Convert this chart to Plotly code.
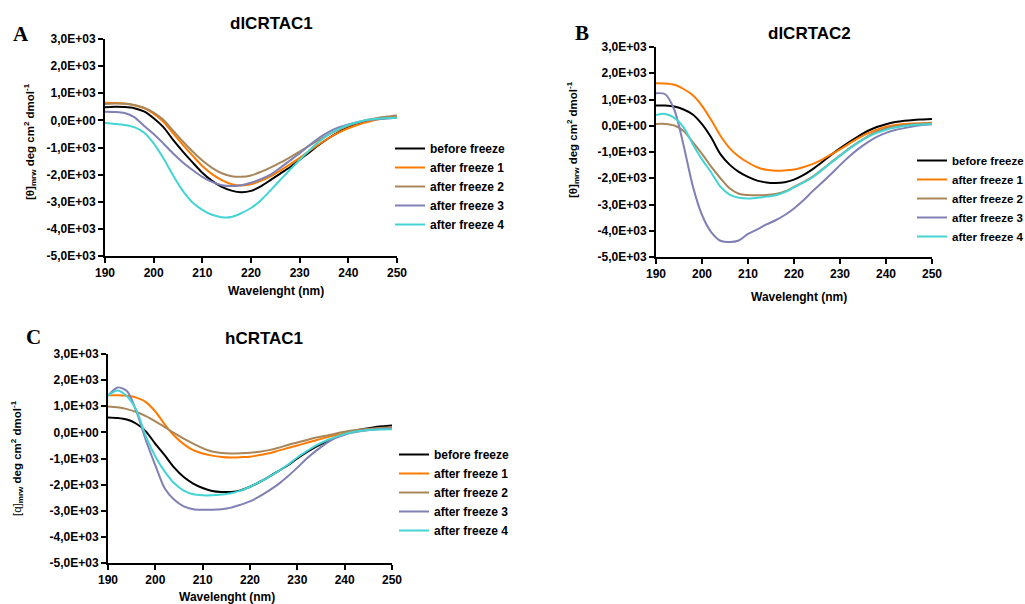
import plotly.graph_objects as go

W, H = 1025, 604

wavelength = list(range(190, 252, 2))

series_names = ["before freeze", "after freeze 1", "after freeze 2", "after freeze 3", "after freeze 4"]
series_colors = ["#000000", "#FF7A00", "#A8865A", "#8080B4", "#44D4D4"]

y_tickvals = [3000, 2000, 1000, 0, -1000, -2000, -3000, -4000, -5000]
y_ticktext = ["3,0E+03", "2,0E+03", "1,0E+03", "0,0E+00", "-1,0E+03", "-2,0E+03",
              "-3,0E+03", "-4,0E+03", "-5,0E+03"]
x_tickvals = [190, 200, 210, 220, 230, 240, 250]

# Panel A: dlCRTAC1
a_before = [480, 500, 490, 450, 330, 80, -250, -720, -1150, -1550, -1930, -2230, -2450, -2590, -2650, -2600,
            -2430, -2200, -1960, -1730, -1450, -1180, -900, -650, -430, -250, -100, 0, 60, 110, 150]
a_after1 = [650, 640, 620, 560, 450, 250, -50, -480, -900, -1300, -1680, -1980, -2200, -2350, -2400, -2360,
            -2230, -2060, -1850, -1620, -1380, -1130, -880, -650, -450, -290, -160, -60, 30, 90, 150]
a_after2 = [600, 620, 610, 570, 470, 290, 20, -380, -780, -1150, -1480, -1750, -1950, -2060, -2080, -2030,
            -1900, -1740, -1560, -1360, -1150, -930, -720, -520, -340, -200, -80, 20, 90, 140, 180]
a_after3 = [320, 310, 270, 120, -200, -500, -850, -1220, -1550, -1830, -2080, -2270, -2390, -2420, -2390, -2300,
            -2170, -2000, -1750, -1480, -1210, -920, -640, -420, -260, -150, -60, 0, 40, 70, 100]
a_after4 = [-100, -130, -170, -250, -450, -850, -1400, -2030, -2600, -3030, -3300, -3480, -3570, -3560, -3420, -3230,
            -2950, -2580, -2200, -1820, -1460, -1100, -780, -520, -320, -170, -60, 20, 60, 80, 100]

# Panel B: dlCRTAC2
b_before = [770, 770, 730, 620, 430, 60, -450, -1080, -1480, -1760, -1950, -2090, -2160, -2180, -2150, -2050,
            -1880, -1660, -1400, -1120, -860, -620, -400, -200, -50, 60, 140, 190, 220, 240, 260]
b_after1 = [1620, 1610, 1560, 1400, 1160, 760, 220, -380, -850, -1170, -1400, -1580, -1680, -1710, -1700, -1670,
            -1580, -1460, -1300, -1100, -900, -680, -470, -290, -150, -40, 30, 70, 90, 100, 110]
b_after2 = [70, 70, 10, -200, -620, -1070, -1560, -2000, -2380, -2590, -2640, -2650, -2640, -2600, -2500, -2330,
            -2150, -1950, -1680, -1400, -1130, -860, -620, -400, -230, -100, -20, 30, 60, 80, 100]
b_after3 = [1240, 1200, 600, -750, -2300, -3400, -4050, -4380, -4430, -4370, -4120, -3950, -3760, -3600, -3400, -3150,
            -2850, -2500, -2180, -1850, -1500, -1170, -880, -630, -420, -270, -160, -90, -20, 30, 60]
b_after4 = [410, 450, 300, -60, -700, -1280, -1780, -2320, -2620, -2740, -2770, -2740, -2700, -2650, -2530, -2350,
            -2170, -1970, -1700, -1420, -1150, -880, -640, -430, -270, -150, -70, -10, 30, 50, 70]

# Panel C: hCRTAC1
c_before = [570, 550, 490, 330, 40, -440, -880, -1350, -1710, -1960, -2130, -2240, -2280, -2280, -2220, -2080,
            -1900, -1700, -1480, -1260, -1000, -760, -550, -360, -200, -60, 50, 130, 190, 230, 260]
c_after1 = [1420, 1420, 1400, 1330, 1160, 800, 300, -130, -450, -680, -810, -890, -940, -960, -950, -930,
            -870, -800, -700, -600, -500, -400, -300, -200, -110, -30, 40, 90, 130, 160, 180]
c_after2 = [990, 960, 890, 780, 620, 420, 200, -30, -240, -430, -600, -730, -790, -810, -800, -780,
            -740, -680, -590, -480, -390, -290, -200, -130, -50, 20, 80, 120, 150, 180, 200]
c_after3 = [1400, 1720, 1580, 800, -300, -1260, -2150, -2580, -2830, -2940, -2960, -2960, -2940, -2880, -2770, -2640,
            -2450, -2230, -1980, -1680, -1350, -1000, -700, -430, -220, -90, 0, 60, 100, 130, 150]
c_after4 = [1400, 1600, 1380, 850, -150, -920, -1500, -1950, -2230, -2370, -2410, -2410, -2380, -2330, -2230, -2080,
            -1900, -1700, -1480, -1240, -960, -720, -500, -320, -180, -60, 20, 70, 100, 110, 120]

panels = [
    dict(data=[a_before, a_after1, a_after2, a_after3, a_after4], xa="x", ya="y", legend="legend"),
    dict(data=[b_before, b_after1, b_after2, b_after3, b_after4], xa="x2", ya="y2", legend="legend2"),
    dict(data=[c_before, c_after1, c_after2, c_after3, c_after4], xa="x3", ya="y3", legend="legend3"),
]

fig = go.Figure()
for p in panels:
    for name, color, vals in zip(series_names, series_colors, p["data"]):
        fig.add_trace(go.Scatter(
            x=wavelength, y=vals, mode="lines", name=name,
            line=dict(color=color, width=2, shape="spline", smoothing=0.8),
            xaxis=p["xa"], yaxis=p["ya"], legend=p["legend"], showlegend=True,
        ))


def px(x):
    return x / W


def py(y):
    return 1 - y / H


FAMILY = "Liberation Sans, Arial"
tickfont = dict(family=FAMILY, size=12, color="black", weight="bold")
axis_common = dict(showline=True, linecolor="black", linewidth=2, ticks="outside",
                   ticklen=5, tickwidth=2, tickcolor="black", showgrid=False, zeroline=False,
                   tickfont=tickfont, automargin=False)


def xaxis(x0, x1, anchor):
    return dict(domain=[px(x0), px(x1)], range=[190, 250], tickvals=x_tickvals,
                anchor=anchor, **axis_common)


def yaxis(y_top, y_bot, anchor):
    return dict(domain=[py(y_bot), py(y_top)], range=[-5000, 3000], tickvals=y_tickvals,
                ticktext=y_ticktext, anchor=anchor, **axis_common)


def legend_at(x, y, size):
    return dict(x=px(x), y=py(y), bgcolor="rgba(0,0,0,0)", borderwidth=0, itemwidth=30,
                font=dict(family=FAMILY, size=size, color="black", weight="bold"),
                xanchor="left", yanchor="top", tracegroupgap=0)


fig.update_layout(
    width=W, height=H,
    margin=dict(l=0, r=0, t=0, b=0, pad=0, autoexpand=False),
    paper_bgcolor="white", plot_bgcolor="white",
    xaxis=xaxis(105, 397, "y"), yaxis=yaxis(39, 256, "x"),
    xaxis2=xaxis(656, 932, "y2"), yaxis2=yaxis(47, 257, "x2"),
    xaxis3=xaxis(108, 392, "y3"), yaxis3=yaxis(354, 563, "x3"),
    legend=legend_at(390, 134, 12),
    legend2=legend_at(912, 146, 11.5),
    legend3=legend_at(394, 440, 12),
)

ylab_theta = "<b>[θ]<sub>mrw</sub> deg cm<sup>2</sup> dmol<sup>-1</sup></b>"
ylab_q = "[q]<b><sub>mrw</sub> deg cm<sup>2</sup> dmol<sup>-1</sup></b>"

annots = [
    # panel titles
    dict(text="<b>dlCRTAC1</b>", x=271, y=23, size=17),
    dict(text="<b>dlCRTAC2</b>", x=809, y=33, size=17),
    dict(text="<b>hCRTAC1</b>", x=264, y=338, size=17),
    # x axis titles
    dict(text="<b>Wavelenght (nm)</b>", x=276, y=291, size=12),
    dict(text="<b>Wavelenght (nm)</b>", x=799, y=297, size=12),
    dict(text="<b>Wavelenght (nm)</b>", x=227, y=597, size=12),
    # y axis titles
    dict(text=ylab_theta, x=30, y=142, size=11.5, angle=-90),
    dict(text=ylab_theta, x=573, y=140, size=11.5, angle=-90),
    dict(text=ylab_q, x=17, y=458, size=11.5, angle=-90),
]
for a in annots:
    fig.add_annotation(text=a["text"], x=px(a["x"]), y=py(a["y"]), xref="paper", yref="paper",
                       showarrow=False, xanchor="center", yanchor="middle",
                       textangle=a.get("angle", 0),
                       font=dict(family=FAMILY, size=a["size"], color="black"))

for letter, x, y in [("A", 21, 34), ("B", 582, 33), ("C", 33, 337)]:
    fig.add_annotation(text="<b>%s</b>" % letter, x=px(x), y=py(y), xref="paper", yref="paper",
                       showarrow=False, xanchor="center", yanchor="middle",
                       font=dict(family="Liberation Serif, Times New Roman", size=21, color="black"))

fig.write_html("out.html")
